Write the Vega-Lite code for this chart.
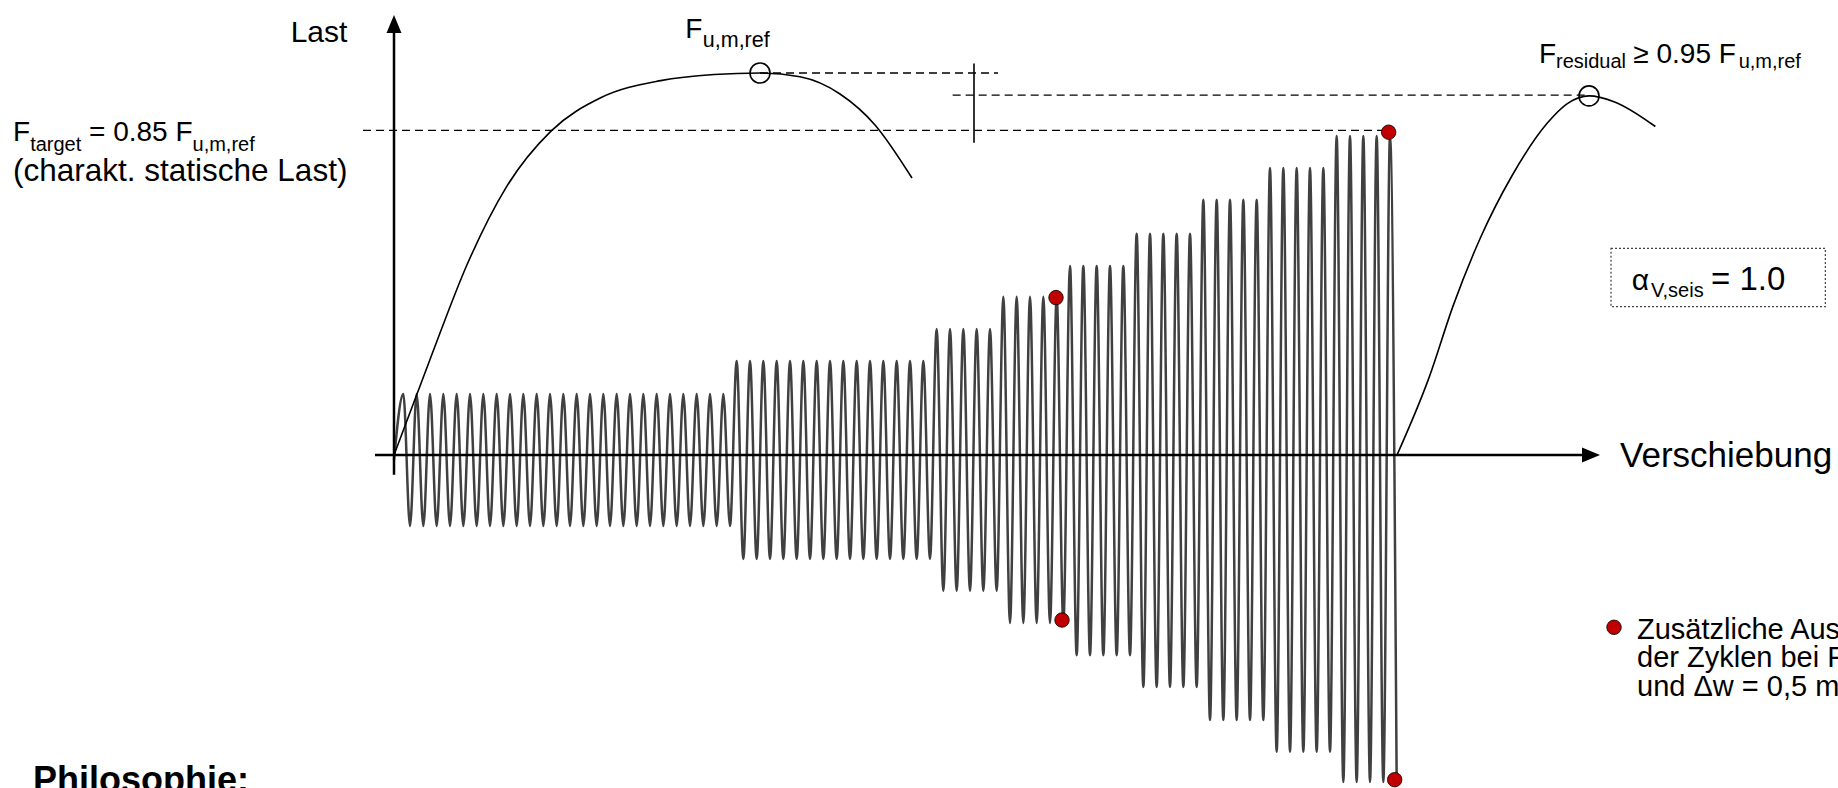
{
  "$schema": "https://vega.github.io/schema/vega-lite/v6.json",
  "width": 1838,
  "height": 788,
  "autosize": "none",
  "padding": 0,
  "background": "white",
  "view": {"stroke": null},
  "config": {"font": "Liberation Sans"},
  "datasets": {
    "signal": [
      {"w":0,"F":-0.013},
      {"w":0.7,"F":0.16},{"w":1.2,"F":-0.186},{"w":1.7,"F":0.16},{"w":2.2,"F":-0.186},{"w":2.7,"F":0.16},{"w":3.2,"F":-0.186},{"w":3.7,"F":0.16},{"w":4.2,"F":-0.186},{"w":4.7,"F":0.16},{"w":5.2,"F":-0.186},
      {"w":5.7,"F":0.16},{"w":6.2,"F":-0.186},{"w":6.7,"F":0.16},{"w":7.2,"F":-0.186},{"w":7.7,"F":0.16},{"w":8.2,"F":-0.186},{"w":8.7,"F":0.16},{"w":9.2,"F":-0.186},{"w":9.7,"F":0.16},{"w":10.2,"F":-0.186},
      {"w":10.7,"F":0.16},{"w":11.2,"F":-0.186},{"w":11.7,"F":0.16},{"w":12.2,"F":-0.186},{"w":12.7,"F":0.16},{"w":13.2,"F":-0.186},{"w":13.7,"F":0.16},{"w":14.2,"F":-0.186},{"w":14.7,"F":0.16},{"w":15.2,"F":-0.186},
      {"w":15.7,"F":0.16},{"w":16.2,"F":-0.186},{"w":16.7,"F":0.16},{"w":17.2,"F":-0.186},{"w":17.7,"F":0.16},{"w":18.2,"F":-0.186},{"w":18.7,"F":0.16},{"w":19.2,"F":-0.186},{"w":19.7,"F":0.16},{"w":20.2,"F":-0.186},
      {"w":20.7,"F":0.16},{"w":21.2,"F":-0.186},{"w":21.7,"F":0.16},{"w":22.2,"F":-0.186},{"w":22.7,"F":0.16},{"w":23.2,"F":-0.186},{"w":23.7,"F":0.16},{"w":24.2,"F":-0.186},{"w":24.7,"F":0.16},{"w":25.2,"F":-0.186},
      {"w":25.7,"F":0.246},{"w":26.2,"F":-0.272},{"w":26.7,"F":0.246},{"w":27.2,"F":-0.272},{"w":27.7,"F":0.246},{"w":28.2,"F":-0.272},{"w":28.7,"F":0.246},{"w":29.2,"F":-0.272},{"w":29.7,"F":0.246},{"w":30.2,"F":-0.272},
      {"w":30.7,"F":0.246},{"w":31.2,"F":-0.272},{"w":31.7,"F":0.246},{"w":32.2,"F":-0.272},{"w":32.7,"F":0.246},{"w":33.2,"F":-0.272},{"w":33.7,"F":0.246},{"w":34.2,"F":-0.272},{"w":34.7,"F":0.246},{"w":35.2,"F":-0.272},
      {"w":35.7,"F":0.246},{"w":36.2,"F":-0.272},{"w":36.7,"F":0.246},{"w":37.2,"F":-0.272},{"w":37.7,"F":0.246},{"w":38.2,"F":-0.272},{"w":38.7,"F":0.246},{"w":39.2,"F":-0.272},{"w":39.7,"F":0.246},{"w":40.2,"F":-0.272},
      {"w":40.7,"F":0.33},{"w":41.2,"F":-0.356},{"w":41.7,"F":0.33},{"w":42.2,"F":-0.356},{"w":42.7,"F":0.33},{"w":43.2,"F":-0.356},{"w":43.7,"F":0.33},{"w":44.2,"F":-0.356},{"w":44.7,"F":0.33},{"w":45.2,"F":-0.356},
      {"w":45.7,"F":0.414},{"w":46.2,"F":-0.44},{"w":46.7,"F":0.414},{"w":47.2,"F":-0.44},{"w":47.7,"F":0.414},{"w":48.2,"F":-0.44},{"w":48.7,"F":0.414},{"w":49.2,"F":-0.44},{"w":49.7,"F":0.414},{"w":50.2,"F":-0.44},
      {"w":50.7,"F":0.495},{"w":51.2,"F":-0.524},{"w":51.7,"F":0.495},{"w":52.2,"F":-0.524},{"w":52.7,"F":0.495},{"w":53.2,"F":-0.524},{"w":53.7,"F":0.495},{"w":54.2,"F":-0.524},{"w":54.7,"F":0.495},{"w":55.2,"F":-0.524},
      {"w":55.7,"F":0.579},{"w":56.2,"F":-0.607},{"w":56.7,"F":0.579},{"w":57.2,"F":-0.607},{"w":57.7,"F":0.579},{"w":58.2,"F":-0.607},{"w":58.7,"F":0.579},{"w":59.2,"F":-0.607},{"w":59.7,"F":0.579},{"w":60.2,"F":-0.607},
      {"w":60.7,"F":0.668},{"w":61.2,"F":-0.694},{"w":61.7,"F":0.668},{"w":62.2,"F":-0.694},{"w":62.7,"F":0.668},{"w":63.2,"F":-0.694},{"w":63.7,"F":0.668},{"w":64.2,"F":-0.694},{"w":64.7,"F":0.668},{"w":65.2,"F":-0.694},
      {"w":65.7,"F":0.751},{"w":66.2,"F":-0.777},{"w":66.7,"F":0.751},{"w":67.2,"F":-0.777},{"w":67.7,"F":0.751},{"w":68.2,"F":-0.777},{"w":68.7,"F":0.751},{"w":69.2,"F":-0.777},{"w":69.7,"F":0.751},{"w":70.2,"F":-0.777},
      {"w":70.7,"F":0.835},{"w":71.2,"F":-0.856},{"w":71.7,"F":0.835},{"w":72.2,"F":-0.856},{"w":72.7,"F":0.835},{"w":73.2,"F":-0.856},{"w":73.7,"F":0.835},{"w":74.2,"F":-0.856},{"w":74.7,"F":0.835},{"w":75.2,"F":-0.856}
    ],
    "kurven": [
      {"kurve":"statisch","w":0,"F":0},
      {"kurve":"statisch","w":2.7,"F":0.25},
      {"kurve":"statisch","w":5.5,"F":0.5},
      {"kurve":"statisch","w":8.4,"F":0.7},
      {"kurve":"statisch","w":11.775,"F":0.848},
      {"kurve":"statisch","w":15.5,"F":0.935},
      {"kurve":"statisch","w":20.0,"F":0.98},
      {"kurve":"statisch","w":24.0,"F":0.996},
      {"kurve":"statisch","w":27.45,"F":1.0},
      {"kurve":"statisch","w":30.45,"F":0.99},
      {"kurve":"statisch","w":33.45,"F":0.945},
      {"kurve":"statisch","w":36.075,"F":0.864},
      {"kurve":"statisch","w":38.85,"F":0.725},
      {"kurve":"residual","w":75.225,"F":0},
      {"kurve":"residual","w":77.6,"F":0.2},
      {"kurve":"residual","w":79.46,"F":0.393},
      {"kurve":"residual","w":81.5,"F":0.57},
      {"kurve":"residual","w":83.85,"F":0.731},
      {"kurve":"residual","w":86.5,"F":0.869},
      {"kurve":"residual","w":88.0,"F":0.92},
      {"kurve":"residual","w":89.625,"F":0.94},
      {"kurve":"residual","w":91.5,"F":0.925},
      {"kurve":"residual","w":94.6,"F":0.86}
    ],
    "achsen": [
      {"w":-1.425,"F":0,"w2":89.3,"F2":0},
      {"w":0,"F":-0.052,"w2":0,"F2":1.11}
    ],
    "marke": [
      {"w":43.5,"F":1.025,"w2":43.5,"F2":0.8175}
    ],
    "gestrichelt": [
      {"w":-2.325,"F":0.85,"w2":74.2,"F2":0.85},
      {"w":27.45,"F":1.0,"w2":45.3,"F2":1.0},
      {"w":41.9,"F":0.942,"w2":89.6,"F2":0.942}
    ],
    "pfeile": [
      {"w":0,"F":1.128,"r":"oben"},
      {"w":89.775,"F":0,"r":"rechts"}
    ],
    "kreise": [
      {"w":27.45,"F":1.0},
      {"w":89.625,"F":0.94}
    ],
    "punkte": [
      {"w":49.65,"F":0.412},
      {"w":50.1,"F":-0.432},
      {"w":74.6,"F":0.845},
      {"w":75.05,"F":-0.85},
      {"w":91.5,"F":-0.451}
    ],
    "kasten": [
      {"w":91.275,"F":0.5411,"w2":107.35,"F2":0.3882}
    ],
    "texte28": [
      {"w":-28.575,"F":0.822,"t":"F"},
      {"w":-22.875,"F":0.822,"t":"= 0.85 F"},
      {"w":21.85,"F":1.0929,"t":"F"},
      {"w":85.875,"F":1.0254,"t":"F"},
      {"w":92.95,"F":1.0254,"t":"≥ 0.95 F"}
    ],
    "legende": [
      {"w":93.225,"F":-0.4817,"t":"Zusätzliche Auswertung"},
      {"w":93.225,"F":-0.5558,"t":"der Zyklen bei F = Ftarget"},
      {"w":93.225,"F":-0.6301,"t":"und Δw = 0,5 mm"}
    ],
    "texte30": [
      {"w":-7.75,"F":1.082,"t":"Last"},
      {"w":92.83,"F":0.4319,"t":"α"}
    ],
    "texte31": [
      {"w":-28.575,"F":0.717,"t":"(charakt. statische Last)"}
    ],
    "texte33": [
      {"w":98.775,"F":0.4319,"t":"= 1.0"}
    ],
    "texte35": [
      {"w":91.95,"F":-0.0327,"t":"Verschiebung"}
    ],
    "indizes20": [
      {"w":-27.29,"F":0.796,"t":"target"},
      {"w":-15.11,"F":0.796,"t":"u,m,ref"},
      {"w":87.15,"F":1.0123,"t":"residual"},
      {"w":100.85,"F":1.0123,"t":"u,m,ref"},
      {"w":94.275,"F":0.4144,"t":"V,seis"}
    ],
    "indizes21": [
      {"w":23.16,"F":1.068,"t":"u,m,ref"}
    ],
    "titel": [
      {"w":-27.075,"F":-0.882,"t":"Philosophie:"}
    ]
  },
  "encoding": {
    "x": {"field":"w","type":"quantitative","scale":{"domain":[-29.55,108.3],"nice":false,"zero":false},"axis":null},
    "y": {"field":"F","type":"quantitative","scale":{"domain":[-0.8717,1.1911],"nice":false,"zero":false},"axis":null}
  },
  "layer": [
    {
      "data": {"name":"signal"},
      "mark": {"type":"line","color":"#404040","strokeWidth":2.5,"interpolate":"monotone"},
      "encoding": {}
    },
    {
      "data": {"name":"gestrichelt"},
      "mark": {"type":"rule","color":"black","strokeWidth":1.3,"strokeDash":[8,5]},
      "encoding": {"x2":{"field":"w2"},"y2":{"field":"F2"}}
    },
    {
      "data": {"name":"kurven"},
      "mark": {"type":"line","color":"black","strokeWidth":1.6,"interpolate":"monotone"},
      "encoding": {"detail":{"field":"kurve","type":"nominal"}}
    },
    {
      "data": {"name":"achsen"},
      "mark": {"type":"rule","color":"black","strokeWidth":2.5},
      "encoding": {"x2":{"field":"w2"},"y2":{"field":"F2"}}
    },
    {
      "data": {"name":"marke"},
      "mark": {"type":"rule","color":"black","strokeWidth":1.6},
      "encoding": {"x2":{"field":"w2"},"y2":{"field":"F2"}}
    },
    {
      "data": {"name":"pfeile"},
      "mark": {"type":"point","filled":true,"color":"black","opacity":1,"size":324},
      "encoding": {"shape":{"field":"r","type":"nominal","scale":{"domain":["oben","rechts"],"range":["M0,-1L0.83,1L-0.83,1Z","M1,0L-1,0.83L-1,-0.83Z"]},"legend":null}}
    },
    {
      "data": {"name":"kreise"},
      "mark": {"type":"point","shape":"circle","filled":false,"color":"black","strokeWidth":1.6,"opacity":1,"size":400}
    },
    {
      "data": {"name":"punkte"},
      "mark": {"type":"point","shape":"circle","filled":true,"fill":"#c00000","stroke":"black","strokeWidth":0.8,"opacity":1,"size":210}
    },
    {
      "data": {"name":"kasten"},
      "mark": {"type":"rect","fill":null,"filled":false,"stroke":"#444444","strokeWidth":1.2,"strokeDash":[2,2]},
      "encoding": {"x2":{"field":"w2"},"y2":{"field":"F2"}}
    },
    {
      "data": {"name":"texte28"},
      "mark": {"type":"text","align":"left","baseline":"alphabetic","fontSize":28,"color":"black"},
      "encoding": {"text":{"field":"t"}}
    },
    {
      "data": {"name":"legende"},
      "mark": {"type":"text","align":"left","baseline":"alphabetic","fontSize":29,"color":"black"},
      "encoding": {"text":{"field":"t"}}
    },
    {
      "data": {"name":"texte30"},
      "mark": {"type":"text","align":"left","baseline":"alphabetic","fontSize":30,"color":"black"},
      "encoding": {"text":{"field":"t"}}
    },
    {
      "data": {"name":"texte31"},
      "mark": {"type":"text","align":"left","baseline":"alphabetic","fontSize":31.5,"color":"black"},
      "encoding": {"text":{"field":"t"}}
    },
    {
      "data": {"name":"texte33"},
      "mark": {"type":"text","align":"left","baseline":"alphabetic","fontSize":33,"color":"black"},
      "encoding": {"text":{"field":"t"}}
    },
    {
      "data": {"name":"texte35"},
      "mark": {"type":"text","align":"left","baseline":"alphabetic","fontSize":35,"color":"black"},
      "encoding": {"text":{"field":"t"}}
    },
    {
      "data": {"name":"indizes20"},
      "mark": {"type":"text","align":"left","baseline":"alphabetic","fontSize":20,"color":"black"},
      "encoding": {"text":{"field":"t"}}
    },
    {
      "data": {"name":"indizes21"},
      "mark": {"type":"text","align":"left","baseline":"alphabetic","fontSize":21.5,"color":"black"},
      "encoding": {"text":{"field":"t"}}
    },
    {
      "data": {"name":"titel"},
      "mark": {"type":"text","align":"left","baseline":"alphabetic","fontSize":36,"fontWeight":"bold","color":"black"},
      "encoding": {"text":{"field":"t"}}
    }
  ]
}
